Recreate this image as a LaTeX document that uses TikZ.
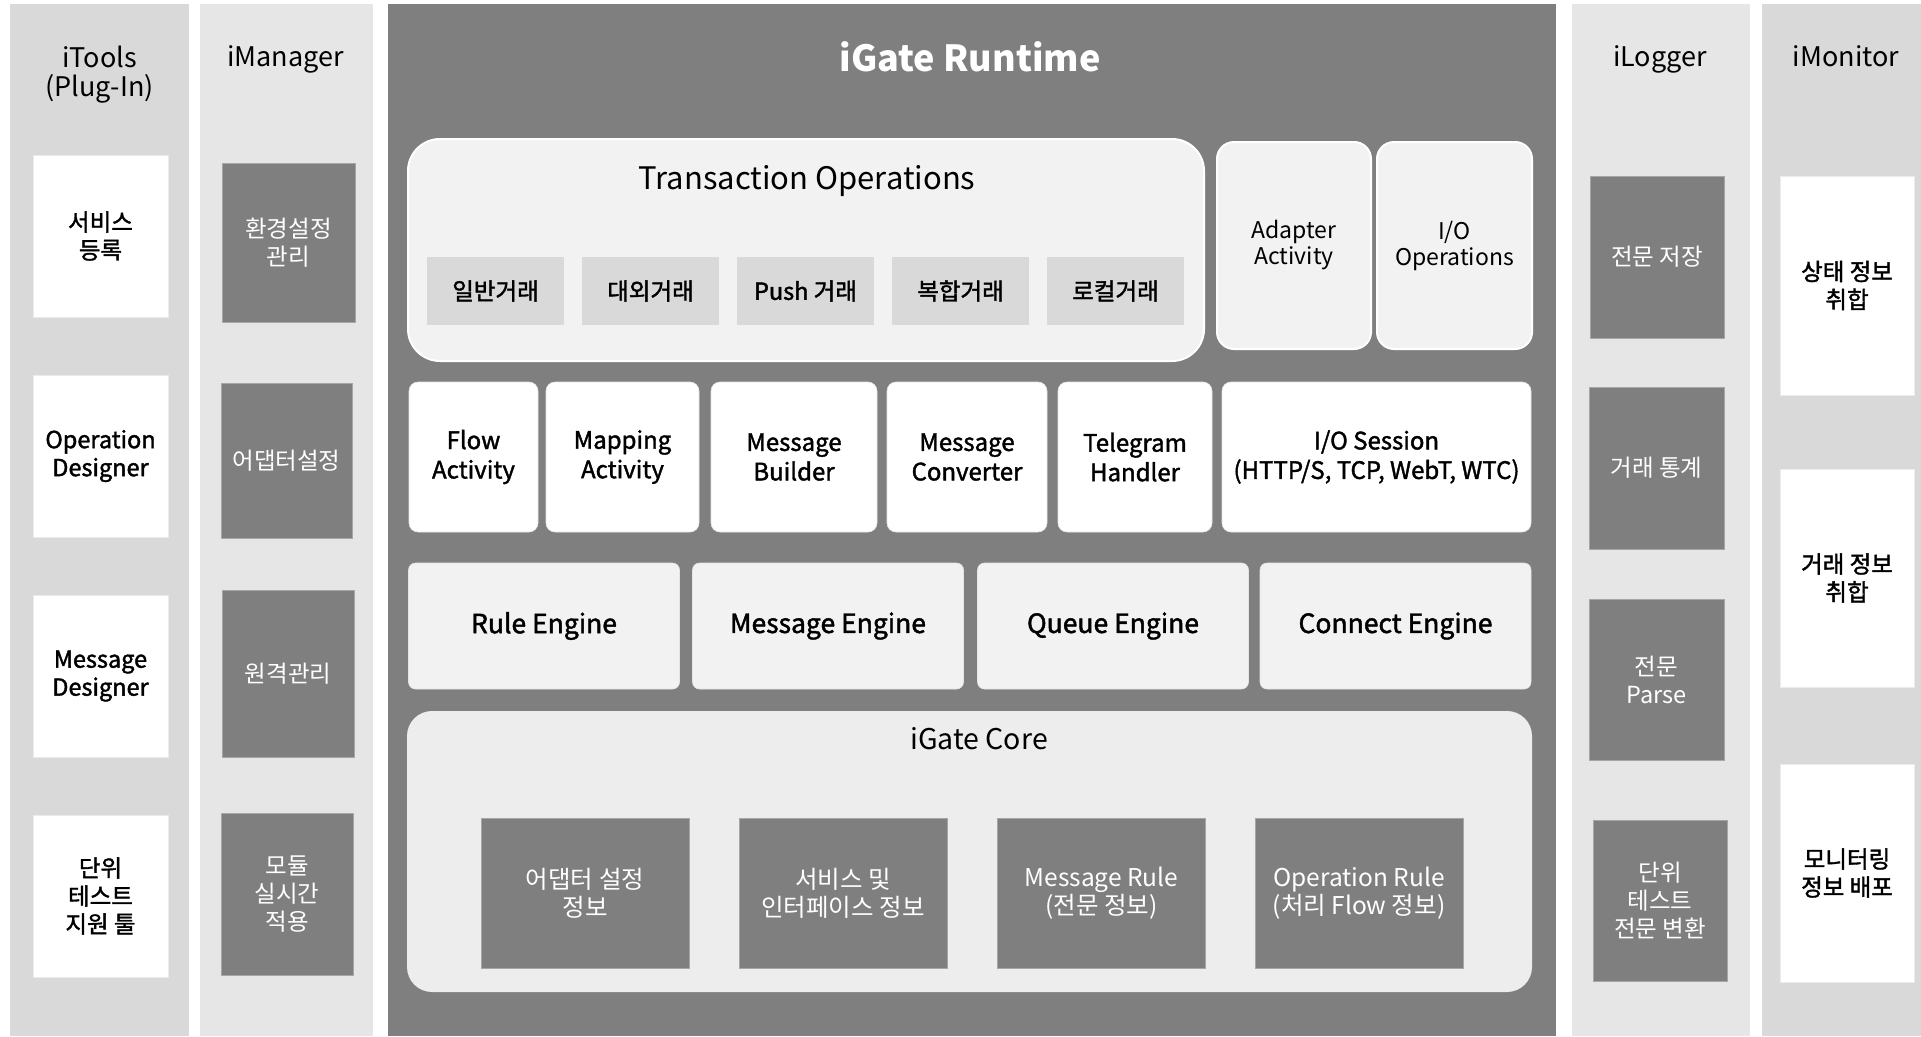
\documentclass[tikz,border=0pt]{standalone}
\usepackage{fontspec}
\setmainfont{Noto Sans CJK KR}
\newfontfamily\mdfont[FakeBold=1.6]{Noto Sans CJK KR}
\usetikzlibrary{shadows}
\definecolor{runbg}{HTML}{7F7F7F}
\definecolor{colA}{HTML}{D9D9D9}
\definecolor{colB}{HTML}{E6E6E6}
\definecolor{panel}{HTML}{F2F2F2}
\definecolor{corebg}{HTML}{EDEDED}
\definecolor{tabbg}{HTML}{D9D9D9}
\definecolor{edge}{HTML}{A6A6A6}
\newcommand\fsz[2]{\fontsize{#1}{#2}\selectfont}
\begin{document}
\begin{tikzpicture}[x=1pt,y=-1pt,
  every node/.style={inner sep=0pt, align=center, font=\fsz{22}{27}},
  sz/.style 2 args={minimum width=#1pt, minimum height=#2pt},
  column/.style={rectangle, draw=none, anchor=north west},
  coltitle/.style={font=\fsz{27}{28}, anchor=base},
  wbox/.style={rectangle, fill=white, draw=black!8, line width=0.8pt, font=\mdfont\fsz{23.5}{28}},
  dbox/.style={rectangle, fill=runbg, draw=edge, line width=1pt, text=white, font=\fsz{23.5}{28}},
  opspanel/.style={rectangle, fill=panel, draw=white, line width=2pt,
     drop shadow={shadow xshift=2pt, shadow yshift=-3pt, opacity=0.45}},
  tab/.style={rectangle, fill=tabbg, draw=none, font=\mdfont\fsz{23.5}{27}, sz={137}{68}},
  actbox/.style={rectangle, fill=white, draw=black!10, line width=0.6pt, rounded corners=9pt,
     font=\mdfont\fsz{24}{29.5}, drop shadow={shadow xshift=1.5pt, shadow yshift=-1.5pt, opacity=0.3}},
  engbox/.style={rectangle, fill=panel, draw=black!10, line width=0.6pt, rounded corners=7pt,
     font=\mdfont\fsz{26.5}{28}, sz={271}{126}},
  coredark/.style={dbox, sz={208}{150}, font=\fsz{24.5}{28}}
]
\fill[white] (0,0) rectangle (1921,1036);
\useasboundingbox (0,0) rectangle (1921,1036);

% columns
\node[column, fill=colA, sz={179}{1032}] (colTools) at (10,4) {};
\node[column, fill=colB, sz={173}{1032}] (colManager) at (200,4) {};
\node[column, fill=runbg, sz={1168}{1032}] (colRuntime) at (388,4) {};
\node[column, fill=colB, sz={178}{1032}] (colLogger) at (1572,4) {};
\node[column, fill=colA, sz={159}{1032}] (colMonitor) at (1762,4) {};

% titles
\node[font=\fsz{27}{29}] (tTools) at (99.5,74.5) {iTools\\(Plug-In)};
\node[coltitle] (tManager) at (285.5,66) {iManager};
\node[coltitle] (tLogger) at (1660,66) {iLogger};
\node[coltitle] (tMonitor) at (1846,66) {iMonitor};
\node[font=\bfseries\fsz{36}{40}, text=white] (tRuntime) at (970,57) {iGate Runtime};

% iTools
\node[wbox, sz={135}{162}] (t1) at (100.5,236) {서비스\\등록};
\node[wbox, sz={135}{162}] (t2) at (100.5,456) {Operation\\Designer};
\node[wbox, sz={135}{162}] (t3) at (100.5,676) {Message\\Designer};
\node[wbox, sz={135}{162}] (t4) at (100.5,896) {단위\\테스트\\지원 툴};

% iManager
\node[dbox, sz={133}{159}] (m1) at (288.5,242.5) {환경설정\\관리};
\node[dbox, sz={131}{155}] (m2) at (286.5,460.5) {어댑터설정};
\node[dbox, sz={132}{167}] (m3) at (288,673.5) {원격관리};
\node[dbox, sz={132}{162}] (m4) at (287,894) {모듈\\실시간\\적용};

% iLogger
\node[dbox, sz={134}{162}] (l1) at (1657,257) {전문 저장};
\node[dbox, sz={135}{162}] (l2) at (1656.5,468) {거래 통계};
\node[dbox, sz={135}{161}] (l3) at (1656.5,679.5) {전문\\Parse};
\node[dbox, sz={134}{161}] (l4) at (1660,900.5) {단위\\테스트\\전문 변환};

% iMonitor
\node[wbox, sz={134}{219}] (o1) at (1847,285.5) {상태 정보\\취합};
\node[wbox, sz={134}{218}] (o2) at (1847,578) {거래 정보\\취합};
\node[wbox, sz={134}{218}] (o3) at (1847,873) {모니터링\\정보 배포};

% Transaction operations
\node[opspanel, rounded corners=32pt, sz={796}{222}] (txops) at (806,250) {};
\node[font=\fsz{31}{34}] (txtitle) at (807,181) {Transaction Operations};
\node[tab] (tx1) at (495.5,291) {일반거래};
\node[tab] (tx2) at (650.5,291) {대외거래};
\node[tab] (tx3) at (805.5,291) {Push 거래};
\node[tab] (tx4) at (960.5,291) {복합거래};
\node[tab] (tx5) at (1115.5,291) {로컬거래};

\node[opspanel, rounded corners=17pt, sz={154}{207}, font=\fsz{23}{26}] (adapter) at (1294,245.5) {Adapter\\Activity};
\node[opspanel, rounded corners=17pt, sz={155}{207}, font=\fsz{23}{26}] (ioops) at (1454.5,245.5) {I/O\\Operations};

% activities row
\node[actbox, sz={129}{150}] (a1) at (473.5,457) {Flow\\Activity};
\node[actbox, sz={153}{150}] (a2) at (622.5,457) {Mapping\\Activity};
\node[actbox, sz={166}{150}] (a3) at (794,457) {Message\\Builder};
\node[actbox, sz={160}{150}] (a4) at (967,457) {Message\\Converter};
\node[actbox, sz={154}{150}] (a5) at (1135,457) {Telegram\\Handler};
\node[actbox, sz={309}{150}] (a6) at (1376.5,457) {I/O Session\\(HTTP/S, TCP, WebT, WTC)};

% engines
\node[engbox] (e1) at (544,626) {Rule Engine};
\node[engbox] (e2) at (828,626) {Message Engine};
\node[engbox] (e3) at (1113,626) {Queue Engine};
\node[engbox] (e4) at (1395.5,626) {Connect Engine};

% core
\node[rectangle, fill=corebg, draw=none, rounded corners=25pt, sz={1125}{281}] (core) at (969.5,851.5) {};
\node[font=\fsz{28.5}{30}] (coretitle) at (979,738.5) {iGate Core};
\node[coredark] (c1) at (585,893) {어댑터 설정\\정보};
\node[coredark] (c2) at (843,893) {서비스 및\\인터페이스 정보};
\node[coredark] (c3) at (1101.5,893) {Message Rule\\(전문 정보)};
\node[coredark] (c4) at (1359,893) {Operation Rule\\(처리 Flow 정보)};
\end{tikzpicture}
\end{document}
